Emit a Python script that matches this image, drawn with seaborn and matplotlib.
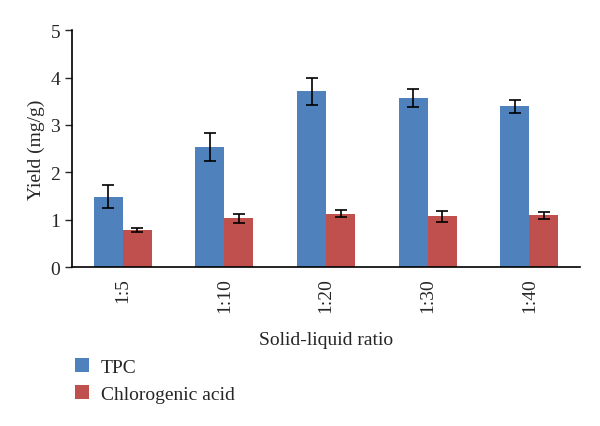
import matplotlib
matplotlib.use('Agg')
import matplotlib.pyplot as plt
import pandas as pd
import seaborn as sns

ratios = ['1:5', '1:10', '1:20', '1:30', '1:40']
tpc = [1.49, 2.53, 3.71, 3.56, 3.39]
tpc_err = [0.25, 0.29, 0.28, 0.19, 0.135]
cga = [0.79, 1.03, 1.13, 1.07, 1.09]
cga_err = [0.04, 0.09, 0.07, 0.11, 0.065]
series = ['TPC', 'Chlorogenic acid']

sns.set_style('white')
plt.rcParams['font.family'] = ['Liberation Serif', 'DejaVu Serif']

df = pd.DataFrame({
    'ratio': ratios * 2,
    'yield': tpc + cga,
    'series': [series[0]] * len(ratios) + [series[1]] * len(ratios),
})

fig = plt.figure(figsize=(6, 4.27), dpi=100)
ax = fig.add_axes([0.12, 0.372, 0.847, 0.555])

sns.barplot(data=df, x='ratio', y='yield', hue='series',
            palette=['#4F81BD', '#C0504D'], width=0.57,
            saturation=1, linewidth=0, ax=ax, legend=True)

# error bars at bar centres
errs = tpc_err + cga_err
vals = tpc + cga
for patch, v, e in zip(ax.patches[:len(vals)], vals, errs):
    xc = patch.get_x() + patch.get_width() / 2
    ax.errorbar(xc, v, yerr=e, color='black', capsize=4, elinewidth=1.2,
                capthick=1.2, fmt='none')

ax.set_ylim(0, 5)
ax.set_xlim(-0.5, 4.5)
ax.set_yticks(range(6))
ax.tick_params(axis='y', which='both', left=True, length=5, width=1,
               direction='out', labelsize=14)
ax.tick_params(axis='x', bottom=False, labelsize=14, rotation=90, pad=4)
for s in ['top', 'right']:
    ax.spines[s].set_visible(False)
for s in ['left', 'bottom']:
    ax.spines[s].set_color('black')
    ax.spines[s].set_linewidth(1.2)

ax.set_ylabel('Yield (mg/g)', fontsize=14)
ax.set_xlabel('Solid-liquid ratio', fontsize=14, labelpad=13)

handles, labels = ax.get_legend_handles_labels()
ax.get_legend().remove()
fig.legend(handles, labels, loc='upper left', bbox_to_anchor=(0.095, 0.2),
           bbox_transform=fig.transFigure, frameon=False, fontsize=14,
           handlelength=0.75, handleheight=0.75, handletextpad=0.6,
           labelspacing=0.45)

fig.savefig('out.png', dpi=100)
